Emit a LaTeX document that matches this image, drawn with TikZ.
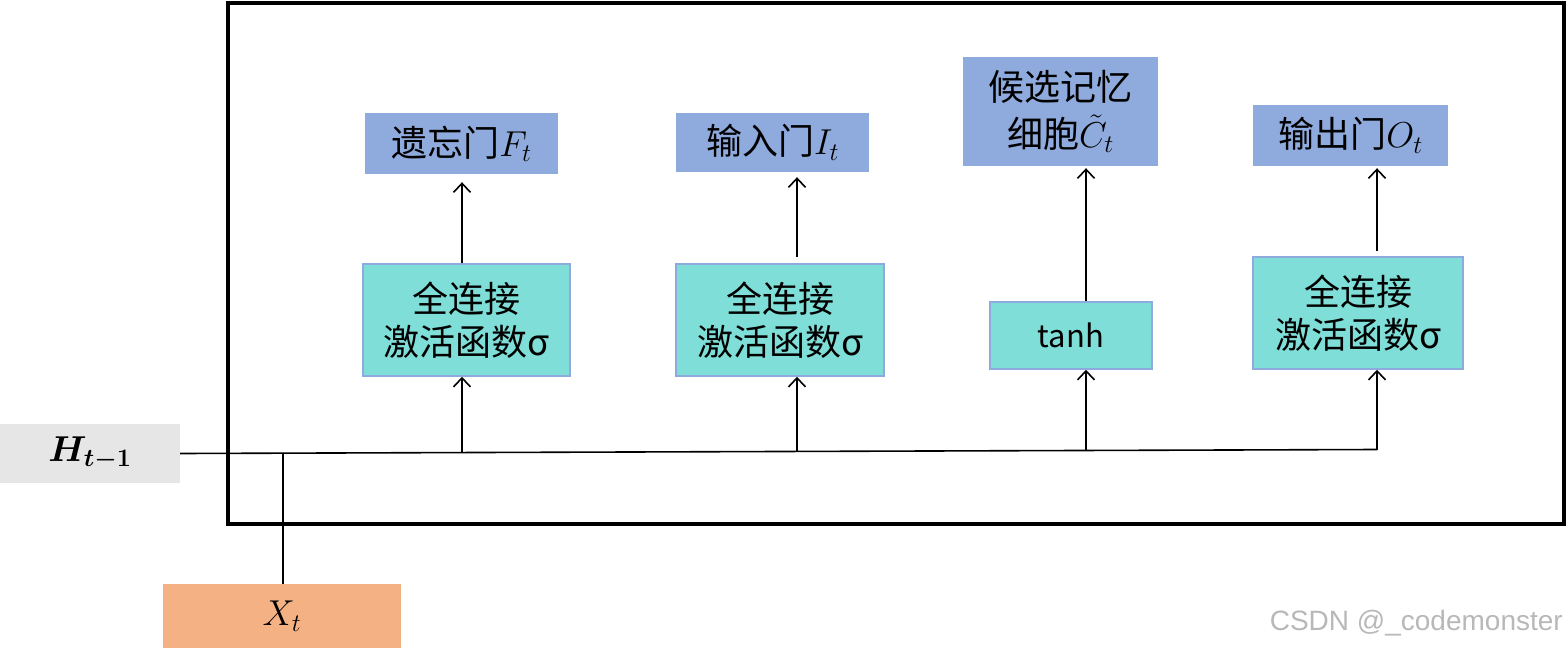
\RequirePackage{fix-cm}
\documentclass[tikz,border=0pt]{standalone}
\usepackage{amsmath,bm}
\usepackage{fontspec}
\setmainfont{Noto Sans CJK SC}
\newfontfamily\wmfont{Liberation Sans}
\usetikzlibrary{arrows.meta,calc}
\definecolor{gatecol}{HTML}{8FAADC}
\definecolor{fccol}{HTML}{7FDED7}
\definecolor{fcborder}{HTML}{8FAADC}
\definecolor{hcol}{HTML}{E6E6E6}
\definecolor{xcol}{HTML}{F4B183}
\begin{document}
\begin{tikzpicture}[x=1pt,y=-1pt,
  txt/.style={font=\fontsize{36}{43}\selectfont, align=center, inner sep=0pt},
  gate/.style={txt, fill=gatecol, draw=none},
  fcbox/.style={txt, fill=fccol, draw=fcborder, line width=1.5pt},
  ln/.style={line width=1.6pt, black},
  arr/.style={ln, -{Straight Barb[length=9pt,width=17pt,line width=1.6pt]}}]
\useasboundingbox (0,0) rectangle (1568,650);
% frame
\draw[line width=4pt] (228,3) rectangle (1564,524);
% input nodes
\node[txt, fill=hcol, minimum width=180pt, minimum height=59pt] (h) at (90,453.5) {$\bm{H_{t-1}}$};
\node[txt, fill=xcol, minimum width=238pt, minimum height=64pt] (x) at (282,616) {$X_t$};
% fully connected boxes
\node[fcbox, minimum width=207pt, minimum height=112pt] (fc1) at (466.5,320) {全连接\\激活函数σ};
\node[fcbox, minimum width=208pt, minimum height=112pt] (fc2) at (780,320) {全连接\\激活函数σ};
\node[fcbox, minimum width=162pt, minimum height=67pt, font=\fontsize{31}{36}\selectfont] (fc3) at (1071,335.5) {tanh};
\node[fcbox, minimum width=210pt, minimum height=112pt] (fc4) at (1358,313) {全连接\\激活函数σ};
% gates
\node[gate, minimum width=193pt, minimum height=61pt] (f) at (461.5,143.5) {遗忘门$F_t$};
\node[gate, minimum width=193pt, minimum height=59pt] (i) at (772.5,142.5) {输入门$I_t$};
\node[gate, minimum width=195pt, minimum height=109pt, font=\fontsize{36}{47}\selectfont] (c) at (1060.5,111.5) {候选记忆\\细胞$\tilde{C}_t$};
\node[gate, minimum width=195pt, minimum height=61pt] (o) at (1350.5,135.5) {输出门$O_t$};
% main line
\coordinate (e) at (1377,449.5);
\coordinate (j0) at (283,453.2);
\coordinate (a1) at (462,452.6);
\coordinate (a2) at (797,451.4);
\coordinate (a3) at (1086,450.5);
\draw[ln] (h.east) -- (e);
\draw[ln] (j0) -- (j0 |- x.north);
% arrows into fc boxes
\draw[arr] (a1) -- (a1 |- fc1.south);
\draw[arr] (a2) -- (a2 |- fc2.south);
\draw[arr] (a3) -- (a3 |- fc3.south);
\draw[arr] (e) -- (e |- fc4.south);
% arrows into gates
\draw[arr, shorten >=8pt] (a1 |- fc1.north) -- (a1 |- f.south);
\draw[arr, shorten <=6pt, shorten >=5pt] (a2 |- fc2.north) -- (a2 |- i.south);
\draw[arr, shorten >=2pt] (a3 |- fc3.north) -- (a3 |- c.south);
\draw[arr, shorten <=5pt, shorten >=2pt] (e |- fc4.north) -- (e |- o.south);
% watermark
\node[anchor=east, inner sep=0pt, text=black!28, font=\wmfont\fontsize{28}{32}\selectfont] (wm) at (1563,623) {CSDN @\_codemonster};
\end{tikzpicture}
\end{document}
